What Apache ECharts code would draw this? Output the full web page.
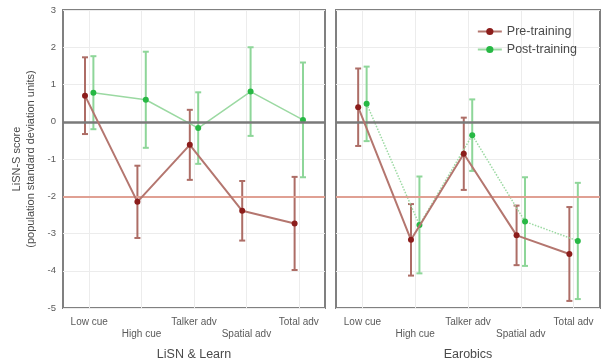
<!DOCTYPE html>
<html>
<head>
<meta charset="utf-8">
<script src="https://cdn.jsdelivr.net/npm/echarts@6/dist/echarts.min.js"></script>
<style>
  html, body { margin: 0; padding: 0; background: #fff; }
  #chart { width: 604px; height: 363px; }
</style>
</head>
<body>
<div id="chart"></div>
<script>
// LiSN-S scores before and after training, in population SD units (mean ± error)
const categories = ['Low cue', 'High cue', 'Talker adv', 'Spatial adv', 'Total adv'];
const panelTitles = ['LiSN & Learn', 'Earobics'];
const yTicks = { min: -5, max: 3, step: 1 };
const referenceLevels = [0, -2];

const lisnPre     = [0.70, -2.15, -0.62, -2.39, -2.73];
const lisnPreErr  = [1.03,  0.97,  0.94,  0.80,  1.25];
const lisnPost    = [0.78,  0.59, -0.17,  0.81,  0.05];
const lisnPostErr = [0.98,  1.29,  0.96,  1.19,  1.54];

const earPre      = [0.39, -3.17, -0.86, -3.05, -3.55];
const earPreErr   = [1.04,  0.96,  0.97,  0.80,  1.26];
const earPost     = [0.48, -2.77, -0.36, -2.68, -3.20];
const earPostErr  = [1.00,  1.30,  0.96,  1.19,  1.56];

const FONT = "'Liberation Sans', Arial, sans-serif";
const PRE = { dot: '#8c1d1b', line: '#b4766f', bar: '#ad6d66' };
const POST = { dot: '#27b844', line: '#9bd9a2', bar: '#8ed699' };
const SHIFT = 0.08; // horizontal separation of the two sessions within a category

const panels = [
  { pre: lisnPre, preErr: lisnPreErr, post: lisnPost, postErr: lisnPostErr },
  { pre: earPre, preErr: earPreErr, post: earPost, postErr: earPostErr }
];

const grids = [
  { left: 63, top: 10, width: 262, height: 298 },
  { left: 336, top: 10, width: 264, height: 298 }
].map(g => Object.assign(g, {
  show: true, borderColor: '#808080', borderWidth: 2, backgroundColor: '#fff',
  containLabel: false, outerBoundsMode: 'none'
}));

const xAxes = [];
const yAxes = [];
grids.forEach((g, p) => {
  // visible category axis: labels and vertical grid lines
  xAxes.push({
    type: 'category', gridIndex: p, data: categories, boundaryGap: true,
    axisLine: { show: false }, axisTick: { show: false },
    axisLabel: {
      color: '#5a5a5a', fontFamily: FONT, fontSize: 10, margin: 8, lineHeight: 12,
      interval: 0, formatter: (v, i) => (i % 2 ? '\n' + v : v)
    },
    splitLine: { show: true, alignWithLabel: true, lineStyle: { color: '#ececec', width: 1 } },
    name: panelTitles[p], nameLocation: 'middle', nameGap: 40,
    nameTextStyle: { color: '#4a4a4a', fontFamily: FONT, fontSize: 12.5 }
  });
  yAxes.push({
    type: 'value', gridIndex: p, min: yTicks.min, max: yTicks.max, interval: yTicks.step,
    axisLine: { show: false }, axisTick: { show: false },
    axisLabel: { show: p === 0, color: '#5a5a5a', fontFamily: FONT, fontSize: 9.5, margin: 7 },
    splitLine: { show: true, lineStyle: { color: '#ececec', width: 1 } },
    name: p === 0 ? 'LiSN-S score\n(population standard deviation units)' : '',
    nameLocation: 'middle', nameRotate: 90, nameGap: 25,
    nameTextStyle: { color: '#4a4a4a', fontFamily: FONT, fontSize: 11, lineHeight: 14 }
  });
});
// hidden continuous axes sharing the category bands, used to place the two sessions side by side
grids.forEach((g, p) => {
  xAxes.push({ type: 'value', gridIndex: p, min: -0.5, max: categories.length - 0.5, show: false });
});

function errorBars(values, errs, shift) {
  return values.map((v, i) => [i + shift, v - errs[i], v + errs[i]]);
}
function points(values, shift) {
  return values.map((v, i) => [i + shift, v]);
}
function barRenderer(color) {
  return function (params, api) {
    const x = api.value(0);
    const lo = api.coord([x, api.value(1)]);
    const hi = api.coord([x, api.value(2)]);
    const cap = 3;
    const style = { stroke: color, lineWidth: 2 };
    return {
      type: 'group',
      children: [
        { type: 'line', shape: { x1: lo[0], y1: lo[1], x2: hi[0], y2: hi[1] }, style },
        { type: 'line', shape: { x1: hi[0] - cap, y1: hi[1], x2: hi[0] + cap, y2: hi[1] }, style },
        { type: 'line', shape: { x1: lo[0] - cap, y1: lo[1], x2: lo[0] + cap, y2: lo[1] }, style }
      ]
    };
  };
}

const series = [];
panels.forEach((d, p) => {
  const xi = 2 + p; // hidden value axis of this panel
  series.push({
    type: 'custom', name: 'refs' + p, xAxisIndex: xi, yAxisIndex: p, z: 1, silent: true,
    data: [], renderItem: () => null,
    markLine: {
      silent: true, symbol: 'none', label: { show: false },
      data: [
        { yAxis: referenceLevels[0], lineStyle: { color: '#7a7a7a', width: 2.5, type: 'solid' } },
        { yAxis: referenceLevels[1], lineStyle: { color: '#e0a093', width: 2, type: 'solid' } }
      ]
    }
  });
  series.push({
    type: 'custom', name: 'post-err' + p, xAxisIndex: xi, yAxisIndex: p, z: 2,
    encode: { x: 0, y: [1, 2] }, data: errorBars(d.post, d.postErr, SHIFT),
    renderItem: barRenderer(POST.bar)
  });
  series.push({
    type: 'custom', name: 'pre-err' + p, xAxisIndex: xi, yAxisIndex: p, z: 3,
    encode: { x: 0, y: [1, 2] }, data: errorBars(d.pre, d.preErr, -SHIFT),
    renderItem: barRenderer(PRE.bar)
  });
  series.push({
    type: 'line', name: 'Post-training', xAxisIndex: xi, yAxisIndex: p, z: 4,
    data: points(d.post, SHIFT), symbol: 'circle', symbolSize: 6,
    itemStyle: { color: POST.dot },
    lineStyle: { color: POST.line, width: 1.5, type: p === 0 ? 'solid' : 'dotted' }
  });
  series.push({
    type: 'line', name: 'Pre-training', xAxisIndex: xi, yAxisIndex: p, z: 5,
    data: points(d.pre, -SHIFT), symbol: 'circle', symbolSize: 6,
    itemStyle: { color: PRE.dot },
    lineStyle: { color: PRE.line, width: 2 }
  });
});

const chart = echarts.init(document.getElementById('chart'), null, { renderer: 'canvas' });
chart.setOption({
  animation: false,
  backgroundColor: '#fff',
  grid: grids,
  xAxis: xAxes,
  yAxis: yAxes,
  legend: {
    orient: 'vertical', right: 22, top: 20, itemGap: 5, itemWidth: 24, itemHeight: 9,
    data: ['Pre-training', 'Post-training'],
    textStyle: { color: '#4a4a4a', fontFamily: FONT, fontSize: 12.5 }
  },
  series: series
});
</script>
</body>
</html>
